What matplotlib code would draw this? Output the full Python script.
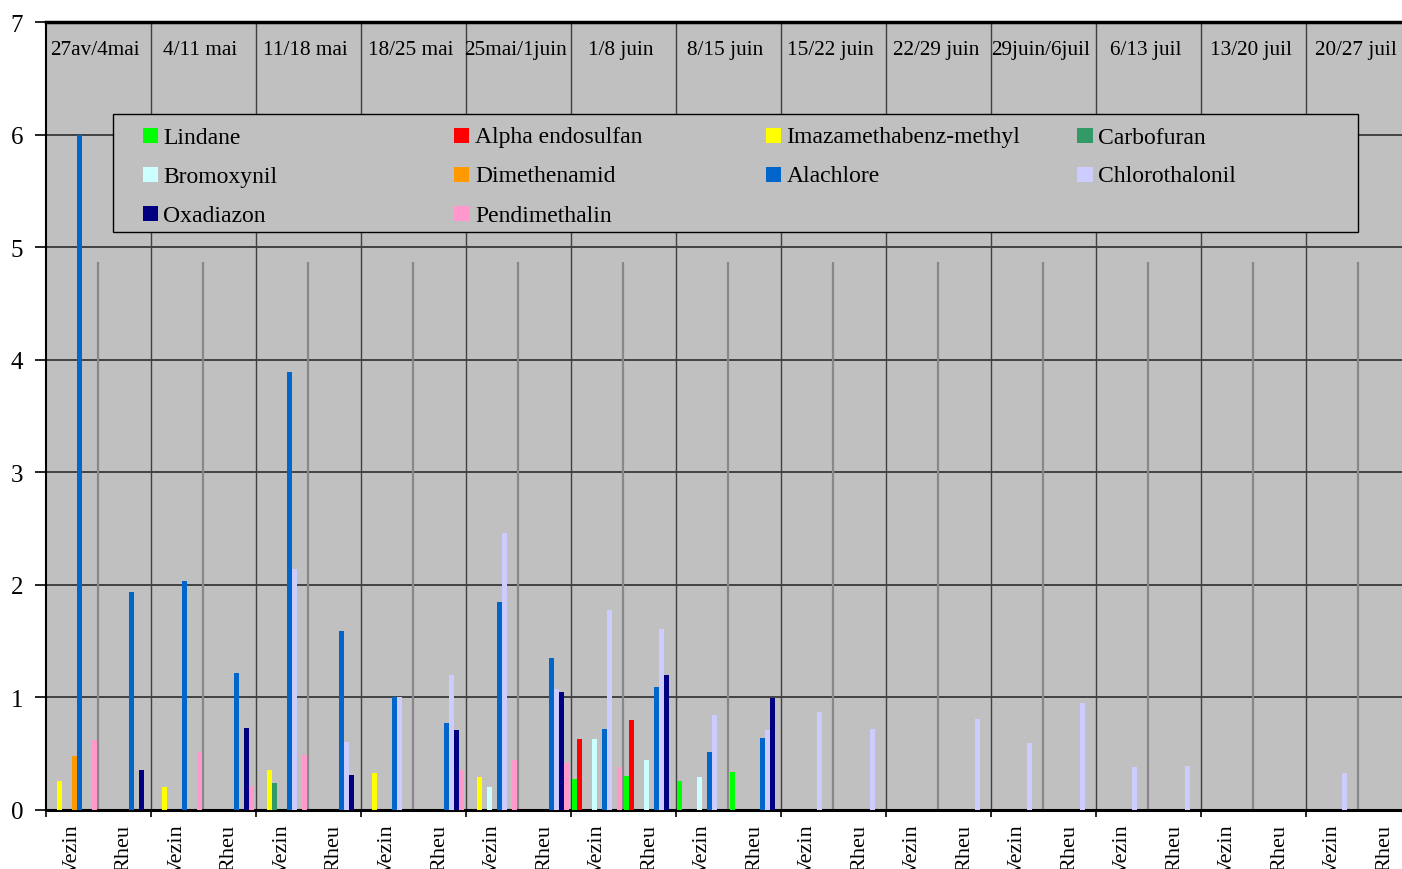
import numpy as np
import matplotlib
matplotlib.use('Agg')
import matplotlib.pyplot as plt
from matplotlib.patches import Rectangle

plt.rcParams['font.family'] = ['Liberation Serif', 'DejaVu Serif']

# Semaines et sites
weeks = ['27av/4mai', '4/11 mai', '11/18 mai', '18/25 mai', '25mai/1juin', '1/8 juin',
         '8/15 juin', '15/22 juin', '22/29 juin', '29juin/6juil', '6/13 juil',
         '13/20 juil', '20/27 juil']
sites = ['Vezin', 'Rheu']

names = ['Lindane', 'Alpha endosulfan', 'Imazamethabenz-methyl', 'Carbofuran',
         'Bromoxynil', 'Dimethenamid', 'Alachlore', 'Chlorothalonil',
         'Oxadiazon', 'Pendimethalin']
colors = ['#00FF00', '#FF0000', '#FFFF00', '#339966', '#CCFFFF',
          '#FF9900', '#0066CC', '#CCCCFF', '#000080', '#FF99CC']

# Valeurs par catégorie (Vezin, Rheu pour chaque semaine)
lindane = [0, 0, 0, 0, 0, 0, 0, 0, 0, 0, 0.27, 0.30, 0.26, 0.34,
           0, 0, 0, 0, 0, 0, 0, 0, 0, 0, 0, 0]
alpha_endo = [0, 0, 0, 0, 0, 0, 0, 0, 0, 0, 0.63, 0.80, 0, 0,
              0, 0, 0, 0, 0, 0, 0, 0, 0, 0, 0, 0]
imazameth = [0.26, 0, 0.20, 0, 0.35, 0, 0.33, 0, 0.29, 0, 0, 0, 0, 0,
             0, 0, 0, 0, 0, 0, 0, 0, 0, 0, 0, 0]
carbofuran = [0, 0, 0, 0, 0.24, 0, 0, 0, 0, 0, 0, 0, 0, 0,
              0, 0, 0, 0, 0, 0, 0, 0, 0, 0, 0, 0]
bromoxynil = [0, 0, 0, 0, 0, 0, 0, 0, 0.20, 0, 0.63, 0.44, 0.29, 0,
              0, 0, 0, 0, 0, 0, 0, 0, 0, 0, 0, 0]
dimethenamid = [0.48, 0, 0, 0, 0, 0, 0, 0, 0, 0, 0, 0, 0, 0,
                0, 0, 0, 0, 0, 0, 0, 0, 0, 0, 0, 0]
alachlore = [6.0, 1.94, 2.03, 1.22, 3.89, 1.59, 1.00, 0.77, 1.85, 1.35, 0.72, 1.09, 0.51, 0.64,
             0, 0, 0, 0, 0, 0, 0, 0, 0, 0, 0, 0]
chlorothalonil = [0, 0, 0, 0, 2.14, 0.60, 1.00, 1.20, 2.46, 1.07, 1.78, 1.61, 0.84, 0.71,
                  0.87, 0.72, 0, 0.81, 0.59, 0.95, 0.38, 0.39, 0, 0, 0.33, 0]
oxadiazon = [0, 0.35, 0, 0.73, 0, 0.31, 0, 0.71, 0, 1.05, 0, 1.20, 0, 0.99,
             0, 0, 0, 0, 0, 0, 0, 0, 0, 0, 0, 0]
pendimethalin = [0.62, 0, 0.51, 0.21, 0.49, 0, 0, 0.35, 0.44, 0.42, 0.38, 0, 0, 0,
                 0, 0, 0, 0, 0, 0, 0, 0, 0, 0, 0, 0]

series = [lindane, alpha_endo, imazameth, carbofuran, bromoxynil,
          dimethenamid, alachlore, chlorothalonil, oxadiazon, pendimethalin]

sep_height = 4.87  # hauteur des traits gris entre Vezin et Rheu

W, H = 1402, 870
fig = plt.figure(figsize=(W / 100, H / 100), dpi=100)
ax = fig.add_axes([45.5 / W, 1 - 810.8 / H, (1411 - 45.5) / W, 787.5 / H])
ax.set_facecolor('#C0C0C0')

n_cat = len(weeks) * len(sites)
x = np.arange(n_cat)
slot = 0.0952
for i, (vals, col) in enumerate(zip(series, colors)):
    ax.bar(x + (i - 4.5) * slot, vals, width=slot, color=col, linewidth=0, zorder=3)

ax.set_xlim(-0.5, n_cat - 0.5)
ax.set_ylim(0, 7)

# Grille
ax.set_yticks(range(8))
ax.yaxis.grid(True, color='#383838', lw=1.3)
ax.set_axisbelow(True)
ax.vlines(np.arange(1.5, n_cat - 1, 2), 0, 7, color='#404040', lw=1.0, zorder=1)
ax.vlines(np.arange(0.5, n_cat, 2), 0, sep_height, color='#888888', lw=1.6, zorder=2)

# Axes
ax.set_xticks(x)
ax.set_xticklabels([s for w in weeks for s in sites], rotation=90, fontsize=16)
ax.set_xticks(np.arange(-0.5, n_cat, 2), minor=True)
ax.tick_params(axis='x', which='major', length=0, pad=10)
ax.tick_params(axis='x', which='minor', length=5, width=1.2, direction='out')
ax.tick_params(axis='y', length=8, width=1.2, pad=8, labelsize=18)
for lbl in ax.get_xticklabels():
    lbl.set_va('top')
ax.spines['left'].set_linewidth(1.5)
ax.spines['bottom'].set_linewidth(2.2)
ax.spines['top'].set_linewidth(2.5)
ax.spines['right'].set_visible(False)

# Libellés des semaines en haut
for k, w in enumerate(weeks):
    ax.text(2 * k + 0.45, 6.718, w, ha='center', va='baseline', fontsize=15.3, zorder=4)

# Légende (colonnes de largeur égale comme dans Excel)
def fx(px):
    return px / W

def fy(py):
    return 1 - py / H

fig.add_artist(Rectangle((fx(112.5), fy(233)), fx(1358) - fx(112.5), fy(115) - fy(233),
                         transform=fig.transFigure, facecolor='#C0C0C0',
                         edgecolor='black', lw=1.0, zorder=5))
for k, (name, col) in enumerate(zip(names, colors)):
    row, c = divmod(k, 4)
    left = 142.5 + c * 311.5
    base = 143.5 + row * 39
    fig.add_artist(Rectangle((fx(left), fy(base + 0.5)), fx(15.5), 15.5 / H,
                             transform=fig.transFigure, facecolor=col,
                             edgecolor='none', zorder=6))
    fig.text(fx(left + 21), fy(base), name, ha='left', va='baseline',
             fontsize=17, zorder=6)

plt.savefig('out.png', dpi=100)
